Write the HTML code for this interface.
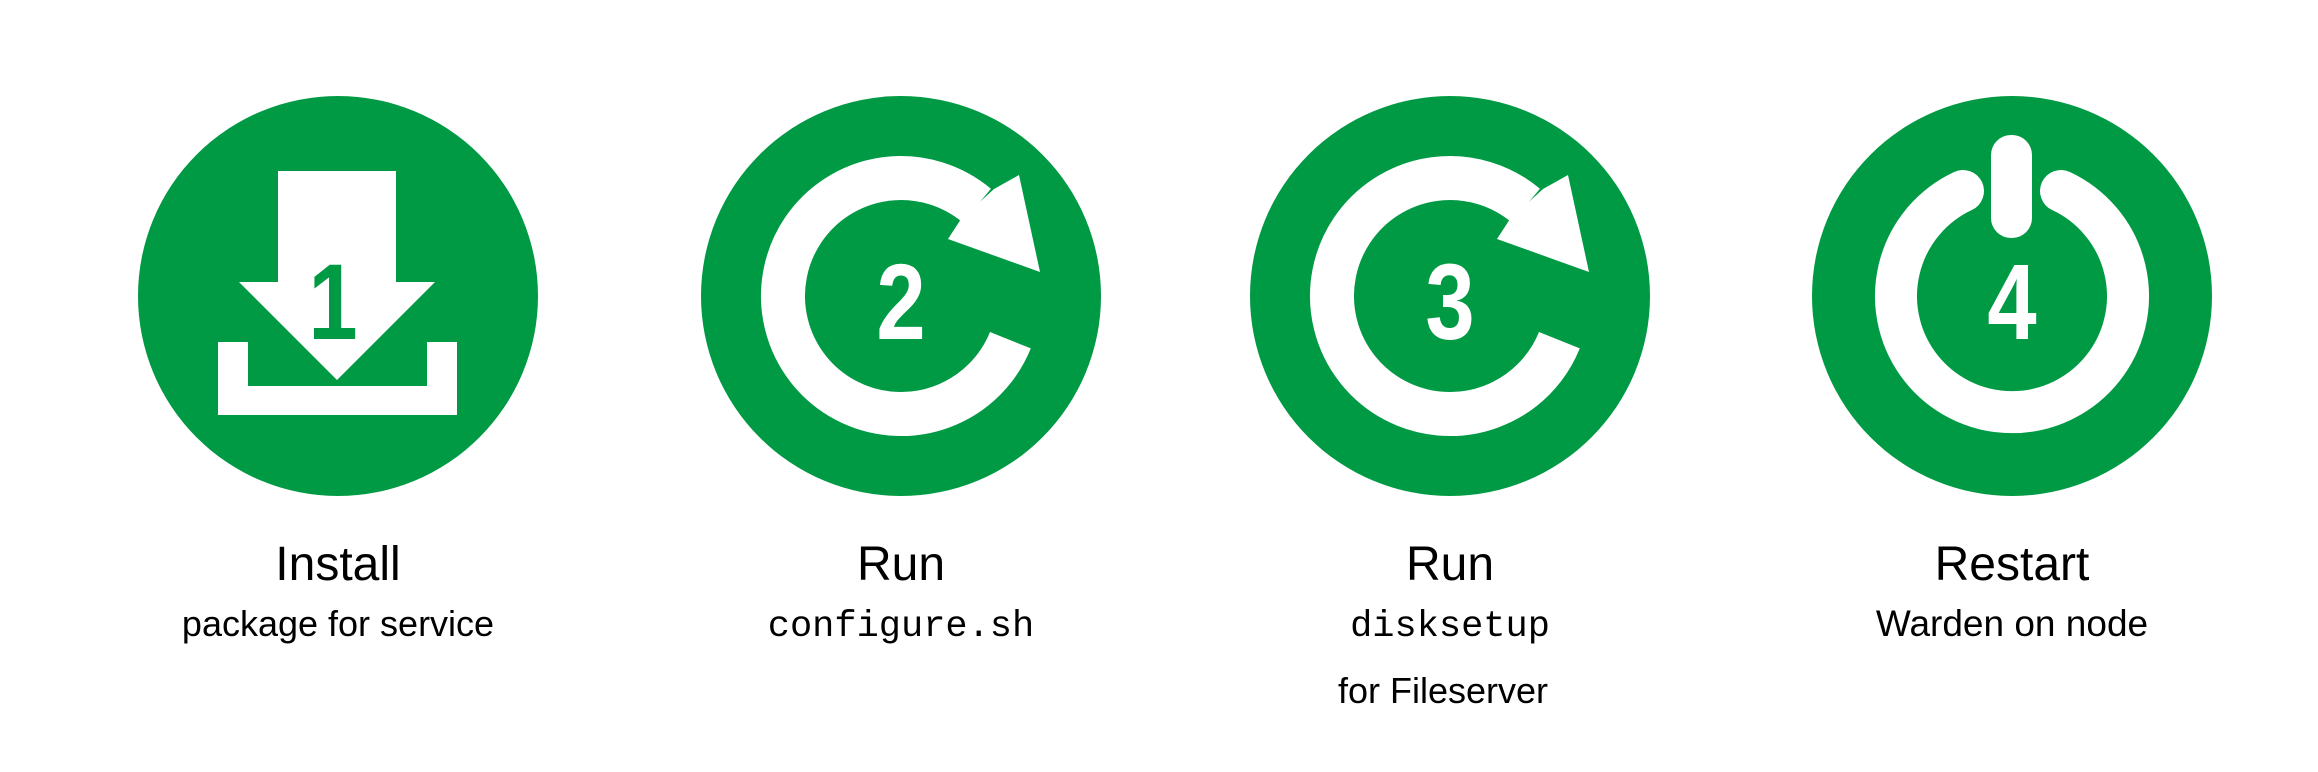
<!DOCTYPE html>
<html><head><meta charset="utf-8"><style>
html,body{margin:0;padding:0;background:#fff;}
body{width:2318px;height:772px;position:relative;overflow:hidden;}
svg{position:absolute;left:0;top:0;}
</style></head><body>
<svg width="2318" height="772" viewBox="0 0 2318 772" xmlns="http://www.w3.org/2000/svg">
<g fill="#009a44">
<circle cx="338" cy="296" r="200"/>
<circle cx="901" cy="296" r="200"/>
<circle cx="1450" cy="296" r="200"/>
<circle cx="2012" cy="296" r="200"/>
</g>
<!-- icon 1 -->
<g transform="translate(338,296)" fill="#fff">
<polygon points="-60,-125 58,-125 58,-14 97,-14 -1,84 -99,-14 -60,-14"/>
<polygon points="-120,46 -90,46 -90,90 89,90 89,46 119,46 119,119 -120,119"/>
<text transform="translate(-5,43) scale(0.82,1)" font-family="Liberation Sans, sans-serif" font-weight="bold" font-size="108" fill="#009a44" text-anchor="middle">1</text>
</g>
<!-- icon 2 -->
<g transform="translate(901,296)">
<path d="M109.4,44.2 A118,118 0 1 1 75.8,-90.4" fill="none" stroke="#fff" stroke-width="44"/>
<polygon points="93,-107 118,-121 139,-24 47,-57 60,-77" fill="#fff"/>
<text transform="translate(0,43) scale(0.82,1)" font-family="Liberation Sans, sans-serif" font-weight="bold" font-size="108" fill="#fff" text-anchor="middle">2</text>
</g>
<!-- icon 3 -->
<g transform="translate(1450,296)">
<path d="M109.4,44.2 A118,118 0 1 1 75.8,-90.4" fill="none" stroke="#fff" stroke-width="44"/>
<polygon points="93,-107 118,-121 139,-24 47,-57 60,-77" fill="#fff"/>
<text transform="translate(0,43) scale(0.82,1)" font-family="Liberation Sans, sans-serif" font-weight="bold" font-size="108" fill="#fff" text-anchor="middle">3</text>
</g>
<!-- icon 4 -->
<g transform="translate(2012,296)">
<path d="M-49,-105 A116,116 0 1 0 49,-105" fill="none" stroke="#fff" stroke-width="42" stroke-linecap="round"/>
<rect x="-21" y="-161" width="41" height="103" rx="20" fill="#fff"/>
<text transform="translate(0,43) scale(0.82,1)" font-family="Liberation Sans, sans-serif" font-weight="bold" font-size="108" fill="#fff" text-anchor="middle">4</text>
</g>
<g font-family="Liberation Sans, sans-serif" fill="#000" text-anchor="middle">
<text x="338" y="580" font-size="48">Install</text>
<text x="338" y="636" font-size="36">package for service</text>
<text x="901" y="580" font-size="48">Run</text>
<text x="901" y="636" font-size="37" font-family="Liberation Mono, monospace">configure.sh</text>
<text x="1450" y="580" font-size="48">Run</text>
<text x="1450" y="636" font-size="37" font-family="Liberation Mono, monospace">disksetup</text>
<text x="1443" y="703" font-size="36">for Fileserver</text>
<text x="2012" y="580" font-size="48">Restart</text>
<text x="2012" y="636" font-size="37">Warden on node</text>
</g>
</svg>
</body></html>
